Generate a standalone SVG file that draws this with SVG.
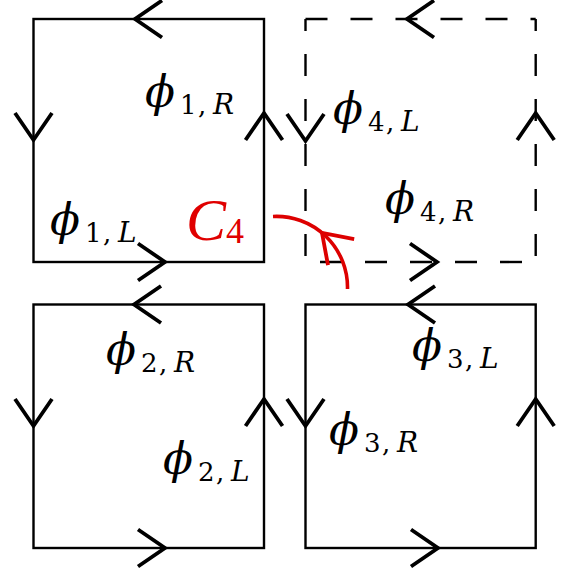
<svg xmlns="http://www.w3.org/2000/svg" xmlns:xlink="http://www.w3.org/1999/xlink" width="567" height="574" viewBox="0 0 567 574">
<style>
.edge{fill:none;stroke:#000;stroke-width:2.4}
.dash{fill:none;stroke:#000;stroke-width:2.4;stroke-dasharray:22 23}
.lbl{font-family:"DejaVu Serif","Liberation Serif",serif;fill:#000}
.phi{font-style:italic;font-size:44px}
.d{font-size:26px}
.v{font-style:italic;font-size:28px}
.red{fill:#e00000;font-family:"Liberation Serif","DejaVu Serif",serif}
</style>
<defs>
<path id="chev" d="M-27,-18.5 L0,0 L-27,18.5" fill="none" stroke="#000" stroke-width="3.8" stroke-linejoin="miter"/>
<path id="chevr" d="M-27,-18.5 L0,0 L-27,18.5" fill="none" stroke="#dd0000" stroke-width="3.8" stroke-linejoin="miter"/>
</defs>
<rect width="567" height="574" fill="#fff"/>

<g id="square1">
<rect class="edge" x="33.5" y="19" width="230.5" height="243"/>
<use xlink:href="#chev" transform="translate(135,19) rotate(180)"/>
<use xlink:href="#chev" transform="translate(33.5,140) rotate(90)"/>
<use xlink:href="#chev" transform="translate(264,113) rotate(-90)"/>
<use xlink:href="#chev" transform="translate(165,262)"/>
<text class="lbl"><tspan class="phi" x="145" y="107">ϕ</tspan><tspan class="d" x="180" y="114">1</tspan><tspan class="d" x="198" y="114">,</tspan><tspan class="v" x="213" y="114">R</tspan></text>
<text class="lbl"><tspan class="phi" x="50" y="235">ϕ</tspan><tspan class="d" x="85" y="242">1</tspan><tspan class="d" x="103" y="242">,</tspan><tspan class="v" x="118" y="242">L</tspan></text>
</g>

<g id="square4">
<line class="dash" x1="305.5" y1="19" x2="535.7" y2="19"/>
<line class="dash" x1="305.5" y1="262" x2="535.7" y2="262" style="stroke-dashoffset:30.5"/>
<line class="dash" x1="305.5" y1="19" x2="305.5" y2="262" style="stroke-dashoffset:10"/>
<line class="dash" x1="535.7" y1="19" x2="535.7" y2="262" style="stroke-dashoffset:10"/>
<use xlink:href="#chev" transform="translate(407,19) rotate(180)"/>
<use xlink:href="#chev" transform="translate(305.5,141) rotate(90)"/>
<use xlink:href="#chev" transform="translate(535.7,113) rotate(-90)"/>
<use xlink:href="#chev" transform="translate(437,262)"/>
<text class="lbl"><tspan class="phi" x="333" y="124">ϕ</tspan><tspan class="d" x="368" y="131">4</tspan><tspan class="d" x="386" y="131">,</tspan><tspan class="v" x="401" y="131">L</tspan></text>
<text class="lbl"><tspan class="phi" x="385" y="214">ϕ</tspan><tspan class="d" x="420" y="221">4</tspan><tspan class="d" x="438" y="221">,</tspan><tspan class="v" x="453" y="221">R</tspan></text>
</g>

<g id="square2">
<rect class="edge" x="33.5" y="304.5" width="230.5" height="243.5"/>
<use xlink:href="#chev" transform="translate(134,304.5) rotate(180)"/>
<use xlink:href="#chev" transform="translate(33.5,426) rotate(90)"/>
<use xlink:href="#chev" transform="translate(264,399) rotate(-90)"/>
<use xlink:href="#chev" transform="translate(165,548)"/>
<text class="lbl"><tspan class="phi" x="106" y="365">ϕ</tspan><tspan class="d" x="141" y="372">2</tspan><tspan class="d" x="159" y="372">,</tspan><tspan class="v" x="174" y="372">R</tspan></text>
<text class="lbl"><tspan class="phi" x="163" y="474">ϕ</tspan><tspan class="d" x="198" y="481">2</tspan><tspan class="d" x="216" y="481">,</tspan><tspan class="v" x="231" y="481">L</tspan></text>
</g>

<g id="square3">
<rect class="edge" x="305.5" y="304.5" width="230.2" height="243.5"/>
<use xlink:href="#chev" transform="translate(408,304.5) rotate(180)"/>
<use xlink:href="#chev" transform="translate(305.5,426) rotate(90)"/>
<use xlink:href="#chev" transform="translate(535.7,399) rotate(-90)"/>
<use xlink:href="#chev" transform="translate(438,548)"/>
<text class="lbl"><tspan class="phi" x="412" y="361">ϕ</tspan><tspan class="d" x="447" y="368">3</tspan><tspan class="d" x="465" y="368">,</tspan><tspan class="v" x="480" y="368">L</tspan></text>
<text class="lbl"><tspan class="phi" x="329" y="445">ϕ</tspan><tspan class="d" x="364" y="452">3</tspan><tspan class="d" x="382" y="452">,</tspan><tspan class="v" x="397" y="452">R</tspan></text>
</g>

<g id="connectors">
<path d="M273,216.5 A71,71 0 0 1 347.5,289" fill="none" stroke="#dd0000" stroke-width="3.6"/>
<use xlink:href="#chevr" transform="translate(322,233) rotate(225)"/>
<text class="red"><tspan x="186" y="240" font-style="italic" font-size="60px">C</tspan><tspan x="226" y="243" font-size="36px">4</tspan></text>
</g>
</svg>
